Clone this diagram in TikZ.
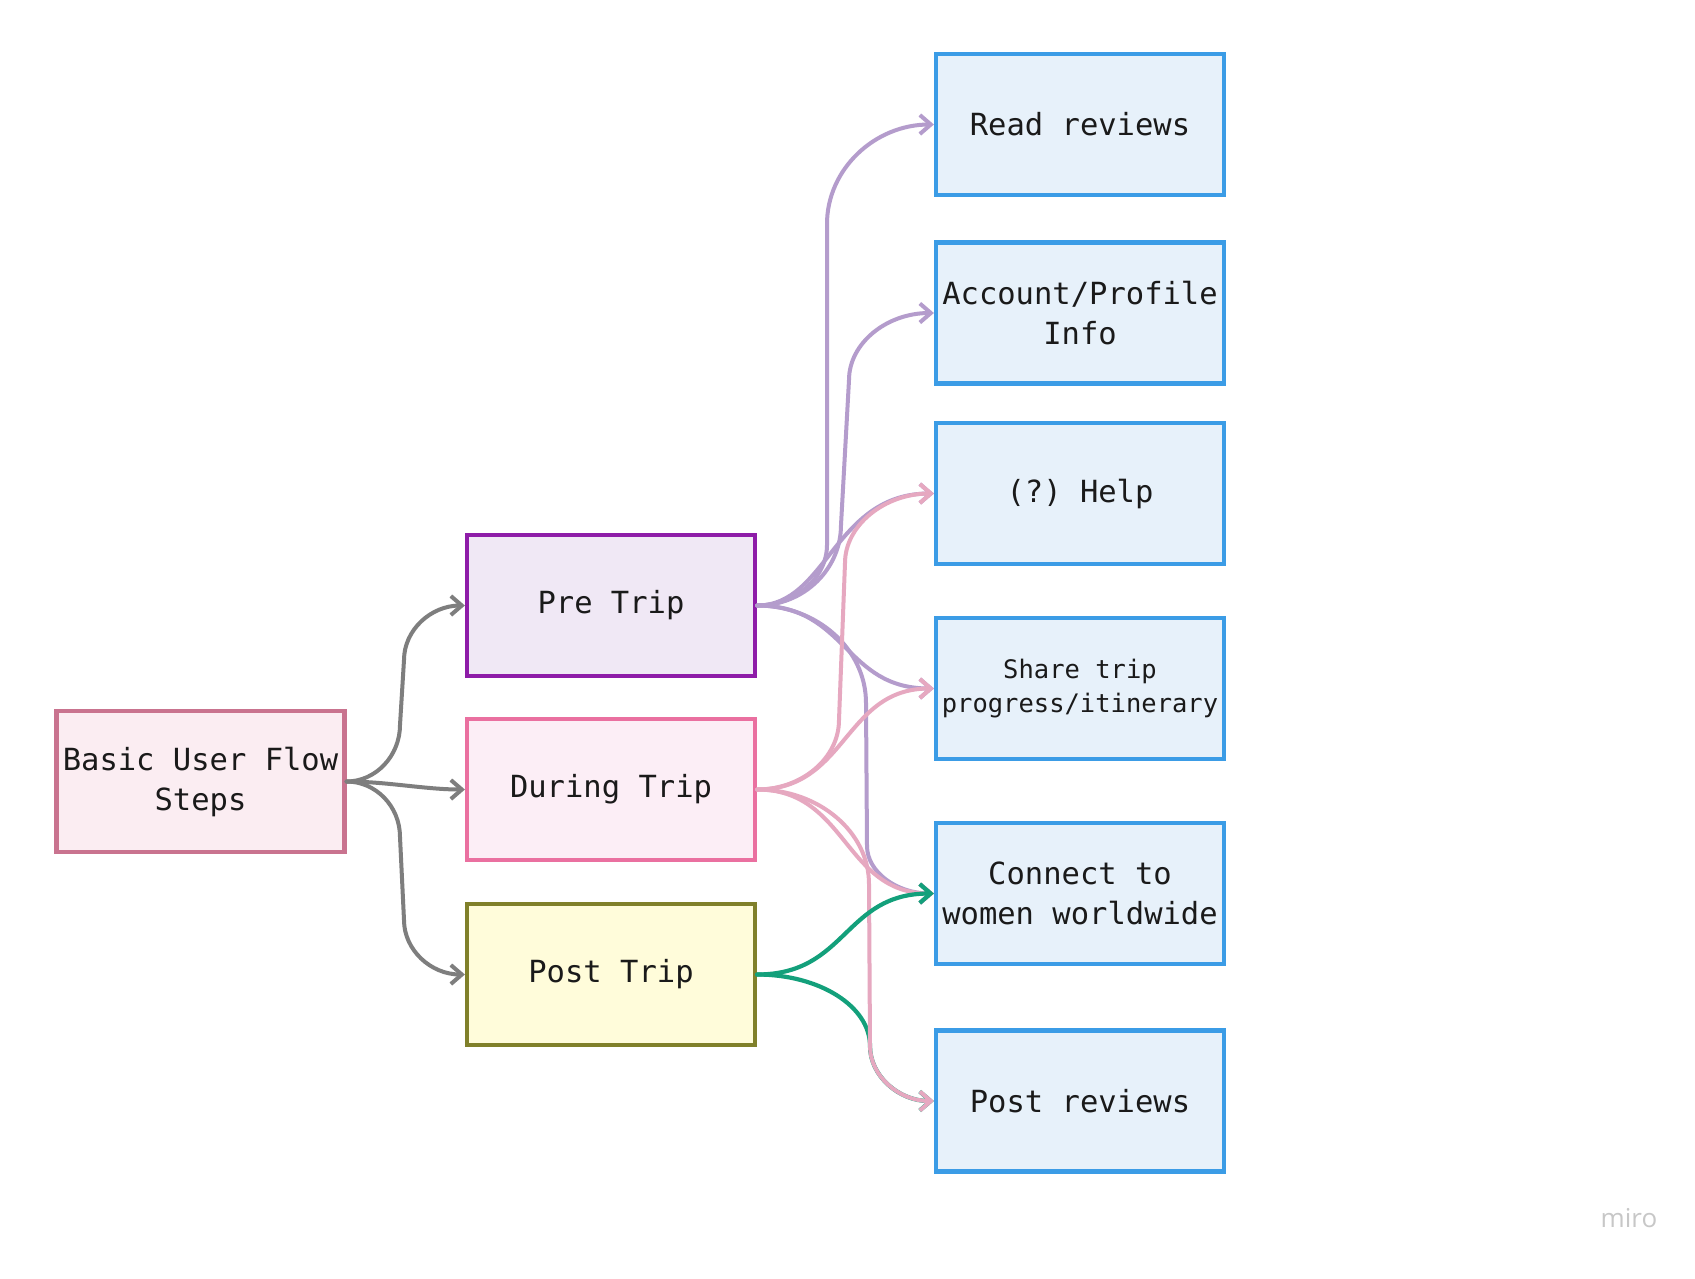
\documentclass[tikz,border=0pt]{standalone}
\usepackage{fontspec}
\setmonofont{DejaVu Sans Mono}
\newfontfamily\wmfont{Open Sans}
\usetikzlibrary{arrows.meta}
\definecolor{txt}{HTML}{1A1A1A}
\definecolor{basicD}{HTML}{C9738F}
\definecolor{basicF}{HTML}{FBEDF2}
\definecolor{preD}{HTML}{8E1CA8}
\definecolor{preF}{HTML}{F0E8F5}
\definecolor{durD}{HTML}{EA70A0}
\definecolor{durF}{HTML}{FCEEF6}
\definecolor{postD}{HTML}{80802A}
\definecolor{postF}{HTML}{FFFCDA}
\definecolor{blueD}{HTML}{3B9CE6}
\definecolor{blueF}{HTML}{E7F1FA}
\definecolor{grayC}{HTML}{7E7E7E}
\definecolor{purpC}{HTML}{B49CCC}
\definecolor{pinkC}{HTML}{E6A8C0}
\definecolor{greenC}{HTML}{13A07B}
\begin{document}
\begin{tikzpicture}[x=1pt,y=-1pt,
  box/.style={draw, line width=4.2pt, minimum width=288pt, minimum height=141pt,
    inner sep=0pt, align=center, text=txt,
    font=\ttfamily\fontsize{30.5}{40}\selectfont},
  small/.style={font=\ttfamily\fontsize{25.5}{34}\selectfont},
  conn/.style={line width=4pt, line cap=round,
    -{Straight Barb[length=11pt,width=19pt]}},
  gc/.style={conn, draw=grayC},
  pc/.style={conn, draw=purpC},
  kc/.style={conn, draw=pinkC},
  ec/.style={conn, draw=greenC, line width=4.2pt}
]
\fill[white] (0,0) rectangle (1695,1278);
\useasboundingbox (0,0) rectangle (1695,1278);

% left column
\node[box, draw=basicD, fill=basicF] (basic) at (200.5,781.5) {Basic User Flow\\Steps};
\node[box, draw=preD, fill=preF] (pre) at (611,605.5) {Pre Trip};
\node[box, draw=durD, fill=durF] (during) at (611,789.5) {During Trip};
\node[box, draw=postD, fill=postF] (post) at (611,974.5) {Post Trip};

% right column
\node[box, draw=blueD, fill=blueF] (read) at (1080,124.5) {Read reviews};
\node[box, draw=blueD, fill=blueF] (account) at (1080,313) {Account/Profile\\Info};
\node[box, draw=blueD, fill=blueF] (help) at (1080,493.5) {(?) Help};
\node[box, draw=blueD, fill=blueF, small] (share) at (1080,688.5) {Share trip\\progress/itinerary};
\node[box, draw=blueD, fill=blueF] (connect) at (1080,893.5) {Connect to\\women worldwide};
\node[box, draw=blueD, fill=blueF] (postrev) at (1080,1101) {Post reviews};

% watermark
\node[font=\wmfont\fontsize{26}{30}\selectfont, text=black!22] (wm) at (1629,1218) {miro};

% gray connectors
\draw[gc] (basic.east) .. controls +(29,0) and +(0,31) .. (400,725) -- (404,660)
  .. controls +(0,-30) and +(-34,0) .. (pre.west);
\draw[gc] (basic.east) .. controls +(40,0) and +(-40,0) .. (during.west);
\draw[gc] (basic.east) .. controls +(29,0) and +(0,-31) .. (400,837) -- (404,920)
  .. controls +(0,30) and +(-34,0) .. (post.west);

% green under pink
\draw[ec] (post.east) .. controls +(62,0) and +(0,-40) .. (870,1046)
  .. controls +(0,30) and +(-35,0) .. (postrev.west);

% purple connectors
\draw[pc] (pre.east) .. controls +(38,0) and +(0,33) .. (827,545) -- (827,224)
  .. controls +(0,-55) and +(-59,0) .. (read.west);
\draw[pc] (pre.east) .. controls +(47,0) and +(0,44) .. (841,525) -- (849,380)
  .. controls +(0,-37) and +(-47,0) .. (account.west);
\draw[pc] (pre.east) .. controls +(70,0) and +(-100,0) .. (help.west);
\draw[pc] (pre.east) .. controls +(90,0) and +(-90,0) .. (share.west);
\draw[pc] (pre.east) .. controls +(60,0) and +(0,-54) .. (866,703) -- (867,846)
  .. controls +(0,26) and +(-37,0) .. (connect.west);

% pink connectors
\draw[kc] (during.east) .. controls +(45,0) and +(0,38) .. (839,720) -- (845,563)
  .. controls +(0,-38) and +(-49,0) .. (help.west);
\draw[kc] (during.east) .. controls +(90,0) and +(-90,0) .. (share.west);
\draw[kc] (during.east) .. controls +(90,0) and +(-90,0) .. (connect.west);
\draw[kc] (during.east) .. controls +(62,0) and +(0,-52) .. (869,884) -- (870,1046)
  .. controls +(0,30) and +(-35,0) .. (postrev.west);

% green to connect on top
\draw[ec] (post.east) .. controls +(90,0) and +(-90,0) .. (connect.west);
\end{tikzpicture}
\end{document}
